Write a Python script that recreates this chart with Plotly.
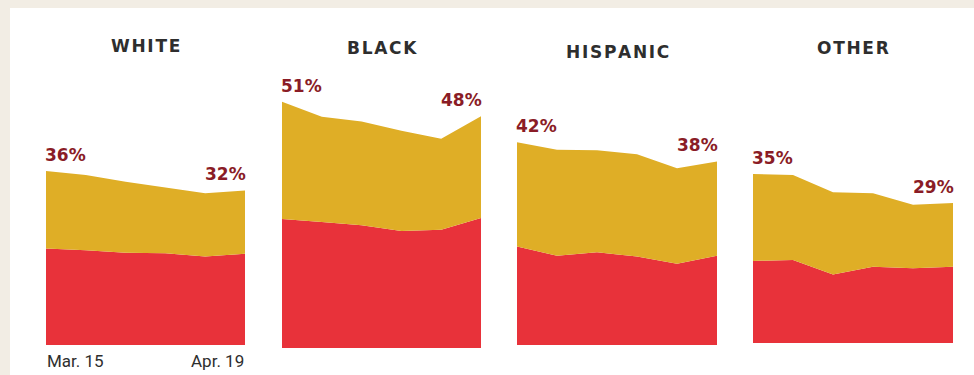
import plotly.graph_objects as go

# Weekly share by group, Mar. 15 through Apr. 19 (six weeks)
weeks = ["Mar. 15", "Mar. 22", "Mar. 29", "Apr. 5", "Apr. 12", "Apr. 19"]
groups = ["WHITE", "BLACK", "HISPANIC", "OTHER"]

# Lower (red) band, percent
white_red = [20.0, 19.6, 19.1, 19.0, 18.3, 18.9]
black_red = [26.7, 26.1, 25.4, 24.2, 24.5, 26.9]
hispanic_red = [20.4, 18.5, 19.2, 18.3, 16.8, 18.5]
other_red = [17.0, 17.2, 14.2, 15.8, 15.5, 15.8]

# Combined total (red + yellow), percent
white_total = [36, 35.2, 33.8, 32.6, 31.4, 32]
black_total = [51, 47.9, 46.9, 45.0, 43.3, 48]
hispanic_total = [42, 40.4, 40.3, 39.5, 36.6, 38]
other_total = [35, 34.8, 31.2, 31.0, 28.6, 29]

reds = [white_red, black_red, hispanic_red, other_red]
totals = [white_total, black_total, hispanic_total, other_total]

W, H = 974, 375
RED = "#e8323a"
YELLOW = "#dfae26"
LABEL = "#8a1c26"
INK = "#2e2e2e"

# panel geometry in pixels: left, right, baseline
panels = [(46, 245, 345), (282, 481, 348), (517, 717, 345), (753, 953, 343)]
title_y = [46, 48, 52, 48]
YMAX = 60
PX_PER_PCT = 4.83

fig = go.Figure()
annotations = []

for i, (name, red, total) in enumerate(zip(groups, reds, totals)):
    xa = "x" if i == 0 else f"x{i + 1}"
    ya = "y" if i == 0 else f"y{i + 1}"
    xs = list(range(len(weeks)))
    yellow = [t - r for t, r in zip(total, red)]
    fig.add_trace(go.Scatter(
        x=xs, y=red, xaxis=xa, yaxis=ya, stackgroup=f"s{i}",
        mode="none", fillcolor=RED, hoverinfo="skip", showlegend=False))
    fig.add_trace(go.Scatter(
        x=xs, y=yellow, xaxis=xa, yaxis=ya, stackgroup=f"s{i}",
        mode="none", fillcolor=YELLOW, hoverinfo="skip", showlegend=False))

    left, right, base = panels[i]
    top = base - YMAX * PX_PER_PCT
    axis_x = dict(domain=[left / W, right / W], range=[0, len(weeks) - 1],
                  visible=False, fixedrange=True)
    axis_y = dict(domain=[1 - base / H, 1 - top / H], range=[0, YMAX],
                  visible=False, fixedrange=True)
    if i > 0:
        axis_x["anchor"] = ya
        axis_y["anchor"] = xa
    fig.update_layout({
        ("xaxis" if i == 0 else f"xaxis{i + 1}"): axis_x,
        ("yaxis" if i == 0 else f"yaxis{i + 1}"): axis_y,
    })

    # first and last values
    value_font = dict(family="DejaVu Sans", size=17, color=LABEL)
    annotations.append(dict(
        x=0, y=total[0], xref=xa, yref=ya, text=f"<b>{total[0]:.0f}%</b>",
        xanchor="left", yanchor="bottom", xshift=-3, yshift=4, showarrow=False,
        font=value_font))
    annotations.append(dict(
        x=len(weeks) - 1, y=total[-1], xref=xa, yref=ya,
        text=f"<b>{total[-1]:.0f}%</b>",
        xanchor="right", yanchor="bottom", xshift=3, yshift=4, showarrow=False,
        font=value_font))

    # group heading
    annotations.append(dict(
        x=(left + right) / 2 / W, y=1 - title_y[i] / H, xref="paper", yref="paper",
        text="<b>" + "\u200a".join(name) + "</b>", showarrow=False,
        xanchor="center", yanchor="middle",
        font=dict(family="DejaVu Sans", size=17, color=INK)))

# date labels under the first panel
annotations.append(dict(
    x=0, y=0, xref="x", yref="y", text=weeks[0], xanchor="left", yanchor="top",
    yshift=-4, xshift=-1, showarrow=False,
    font=dict(family="Roboto", size=17, color=INK)))
annotations.append(dict(
    x=len(weeks) - 1, y=0, xref="x", yref="y", text=weeks[-1], xanchor="right",
    yanchor="top", yshift=-4, xshift=1, showarrow=False,
    font=dict(family="Roboto", size=17, color=INK)))

fig.update_layout(
    width=W, height=H,
    margin=dict(l=0, r=0, t=0, b=0),
    paper_bgcolor="#f2ede4",
    plot_bgcolor="rgba(0,0,0,0)",
    annotations=annotations,
    shapes=[dict(type="rect", xref="paper", yref="paper",
                 x0=10 / W, x1=1.01, y0=-0.01, y1=1 - 8 / H,
                 fillcolor="white", line=dict(width=0), layer="below")],
)

fig.write_html("out.html")
